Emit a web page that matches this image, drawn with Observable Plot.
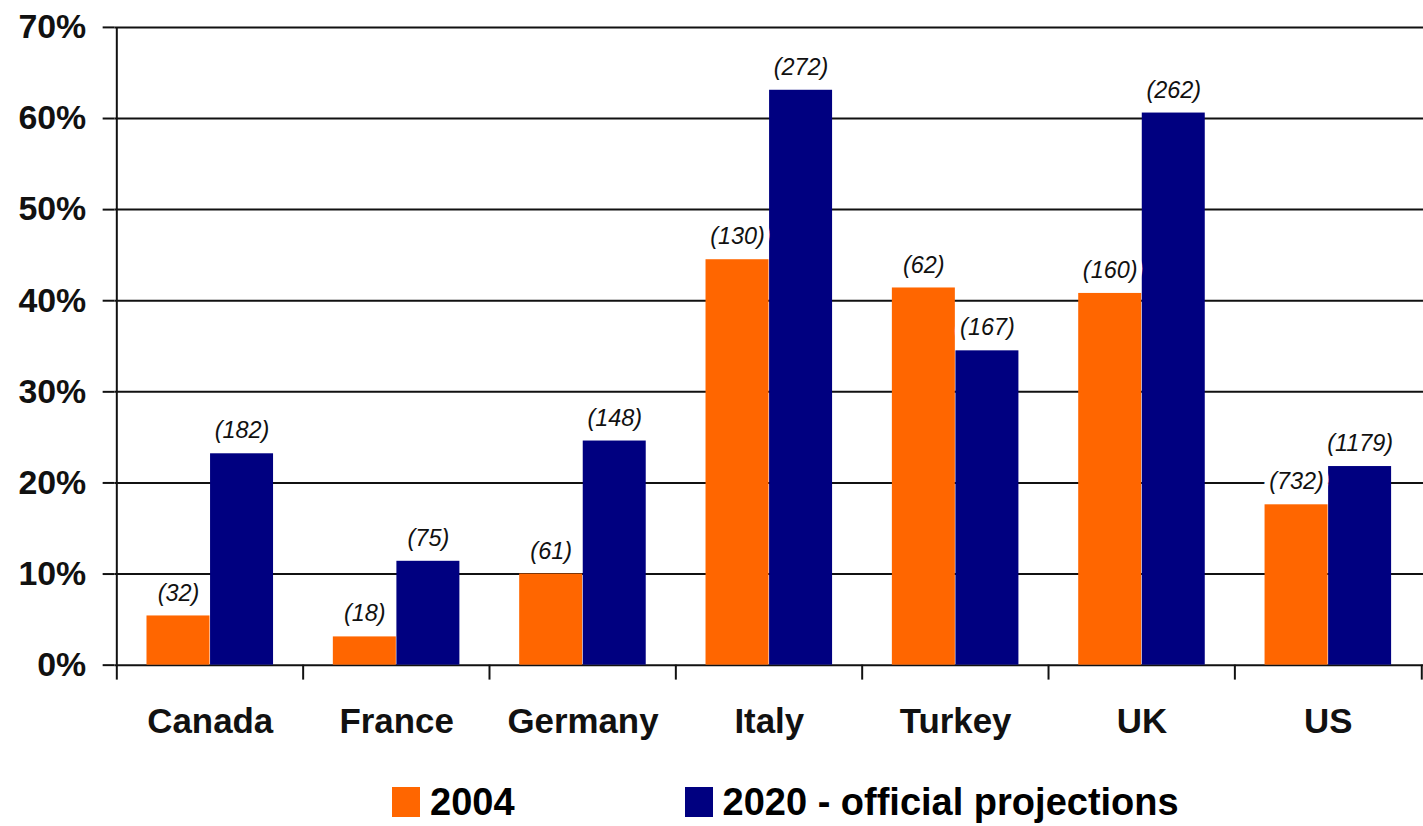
<!DOCTYPE html>
<html>
<head>
<meta charset="utf-8">
<script src="https://cdn.jsdelivr.net/npm/d3@7"></script>
<script src="https://cdn.jsdelivr.net/npm/@observablehq/plot@0.6"></script>
<style>
  html, body { margin: 0; padding: 0; background: #fff; overflow: hidden; }
  #chart svg { display: block; }
  .legend {
    display: flex; align-items: center; height: 66px; margin-top: 12px;
    font: bold 38px "Liberation Sans", Arial, sans-serif; color: #000;
  }
  .legend .item { display: flex; align-items: center; }
  .legend .swatch { display: inline-block; width: 28px; height: 30px; margin-right: 10px; }
</style>
</head>
<body>
<div id="chart"></div>
<div class="legend" id="legend"></div>
<script>
// Share (%) by country, with the counts shown in brackets above each bar
const countries = ["Canada", "France", "Germany", "Italy", "Turkey", "UK", "US"];
const series = ["2004", "2020 - official projections"];
const share2004 = [5.4, 3.1, 10.0, 44.5, 41.4, 40.8, 17.6];
const share2020 = [23.2, 11.4, 24.6, 63.1, 34.5, 60.6, 21.8];
const count2004 = [32, 18, 61, 130, 62, 160, 732];
const count2020 = [182, 75, 148, 272, 167, 262, 1179];
const yTicks = [0, 10, 20, 30, 40, 50, 60, 70];
const colors = ["#ff6600", "#000080"];

const rows2004 = countries.map((c, i) => ({country: c, series: series[0], value: share2004[i], count: count2004[i]}));
const rows2020 = countries.map((c, i) => ({country: c, series: series[1], value: share2020[i], count: count2020[i]}));

// Layout
const width = 1428, height = 760;
const marginLeft = 115, marginRight = 0, marginTop = 27, marginBottom = 93;
const band = (width - marginLeft - marginRight) / countries.length;
const gap = 30;                        // space between group and category edge
const barW = (band - 2 * gap) / 2;      // each bar of the pair
const plotH = height - marginTop - marginBottom;
const font = "Liberation Sans, Arial, sans-serif";

const labelStyle = {
  text: d => `(${d.count})`,
  dy: -23,
  fontSize: 23.5,
  fontStyle: "italic",
  fill: "#111",
  stroke: "white",
  strokeWidth: 12
};

const chart = Plot.plot({
  width, height, marginLeft, marginRight, marginTop, marginBottom,
  style: {fontFamily: font, background: "#fff"},
  x: {domain: countries, padding: 0, label: null},
  y: {domain: [0, 70], label: null},
  marks: [
    // horizontal gridlines
    Plot.ruleY(yTicks, {stroke: "#111", strokeWidth: 2}),
    // bars
    Plot.barY(rows2004, {x: "country", y: "value", fill: colors[0], insetLeft: gap, insetRight: gap + barW}),
    Plot.barY(rows2020, {x: "country", y: "value", fill: colors[1], insetLeft: gap + barW, insetRight: gap}),
    // value axis line
    Plot.ruleX([countries[0]], {dx: -band / 2, stroke: "#111", strokeWidth: 2}),
    // category boundary ticks below the baseline
    Plot.ruleX(countries, {dx: -band / 2, insetTop: plotH, insetBottom: -15, stroke: "#111", strokeWidth: 2}),
    Plot.ruleX([countries[countries.length - 1]], {dx: band / 2, insetTop: plotH, insetBottom: -15, stroke: "#111", strokeWidth: 2}),
    // axes
    Plot.axisY(yTicks, {
      tickSize: 12, tickPadding: 17, tickFormat: d => d + "%",
      fontSize: 34, fontWeight: "bold", fill: "#111", stroke: "#111", strokeWidth: 2
    }),
    Plot.axisX({tickSize: 0, tickPadding: 43, fontSize: 35, fontWeight: "bold", fill: "#111"}),
    // bracketed counts
    Plot.text(rows2004, {x: "country", y: "value", dx: -barW / 2, ...labelStyle}),
    Plot.text(rows2020, {x: "country", y: "value", dx: barW / 2, ...labelStyle})
  ]
});
document.getElementById("chart").append(chart);

// Legend below the chart
const legend = document.getElementById("legend");
const offsets = [392, 170];
series.forEach((s, i) => {
  const item = document.createElement("div");
  item.className = "item";
  item.style.marginLeft = offsets[i] + "px";
  const sw = document.createElement("span");
  sw.className = "swatch";
  sw.style.background = colors[i];
  const label = document.createElement("span");
  label.textContent = s;
  item.append(sw, label);
  legend.append(item);
});
</script>
</body>
</html>
